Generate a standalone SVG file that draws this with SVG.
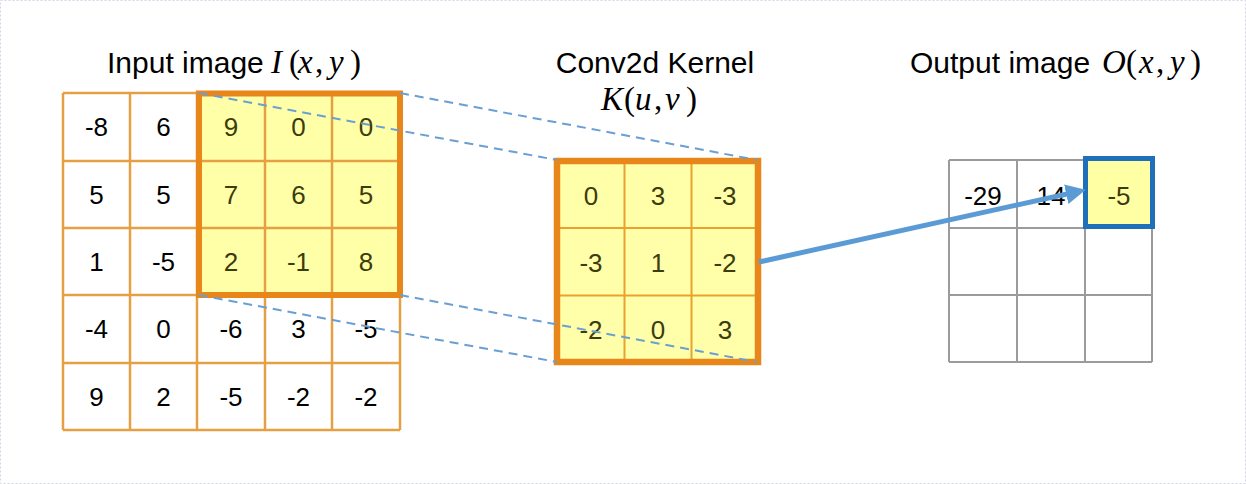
<svg xmlns="http://www.w3.org/2000/svg" width="1246" height="484" viewBox="0 0 1246 484">
<defs>
<style>
.t{font-family:"Liberation Sans",Arial,sans-serif;font-size:30px;fill:#000}
.m{font-family:"Liberation Serif","Times New Roman",serif;font-size:33px;fill:#000}
.mi{font-style:italic}
.n{font-family:"Liberation Sans",Arial,sans-serif;font-size:26px;text-anchor:middle;fill:#000}
.d{fill:#3c3c0c}
.gl{stroke:#e5a044;stroke-width:2.5;fill:none}
.kl{stroke:#e9a22e;stroke-width:2;fill:none}
.hb{stroke:#e8861a;fill:none}
.og{stroke:#9b9b9b;stroke-width:2;fill:none}
.dash{stroke:#6a9fd2;stroke-width:2;stroke-dasharray:9 6;fill:none}
</style>
<marker id="ah" viewBox="0 0 10 10" refX="5" refY="5" markerWidth="4" markerHeight="4" orient="auto" markerUnits="strokeWidth">
<path d="M0,0 L10,5 L0,10 z" fill="#5b9bd5"/>
</marker>
</defs>
<rect x="0.5" y="0.5" width="1245" height="483" fill="#fff" stroke="#d4d4ea" stroke-width="1" stroke-dasharray="2 2"/>

<g id="input">
<text class="t" x="107" y="73">Input image</text>
<text class="m" y="73"><tspan class="mi" x="271">I</tspan><tspan x="289">(</tspan><tspan class="mi" x="298">x</tspan><tspan x="315">,</tspan><tspan class="mi" x="329">y</tspan><tspan x="350">)</tspan></text>
<rect x="199" y="93.5" width="201" height="201.5" fill="#ffffa8"/>
<path class="gl" d="M63,93 H400 M63,161 H400 M63,228 H400 M63,295 H400 M63,363 H400 M63,430 H400 M63,93 V430 M130,93 V430 M197,93 V430 M265,93 V430 M332,93 V430 M400,93 V430"/>
<rect class="hb" x="199" y="93.5" width="201" height="201.5" stroke-width="6"/>
<text class="n" x="96.5" y="136">-8</text><text class="n" x="163.5" y="136">6</text><text class="n d" x="231" y="136">9</text><text class="n d" x="298.5" y="136">0</text><text class="n d" x="366" y="136">0</text>
<text class="n" x="96.5" y="204">5</text><text class="n" x="163.5" y="204">5</text><text class="n d" x="231" y="204">7</text><text class="n d" x="298.5" y="204">6</text><text class="n d" x="366" y="204">5</text>
<text class="n" x="96.5" y="271">1</text><text class="n" x="163.5" y="271">-5</text><text class="n d" x="231" y="271">2</text><text class="n d" x="298.5" y="271">-1</text><text class="n d" x="366" y="271">8</text>
<text class="n" x="96.5" y="338">-4</text><text class="n" x="163.5" y="338">0</text><text class="n" x="231" y="338">-6</text><text class="n" x="298.5" y="338">3</text><text class="n" x="366" y="338">-5</text>
<text class="n" x="96.5" y="406">9</text><text class="n" x="163.5" y="406">2</text><text class="n" x="231" y="406">-5</text><text class="n" x="298.5" y="406">-2</text><text class="n" x="366" y="406">-2</text>
</g>

<g id="kernel">
<text class="t" x="655" y="73" text-anchor="middle">Conv2d Kernel</text>
<text class="m" y="110"><tspan class="mi" x="601">K</tspan><tspan x="624">(</tspan><tspan class="mi" x="635">u</tspan><tspan x="654">,</tspan><tspan class="mi" x="665">v</tspan><tspan x="686">)</tspan></text>
<rect x="557" y="161" width="201" height="201" fill="#ffffaa"/>
<path class="kl" d="M624.5,161 V362 M691.5,161 V362 M557,228 H758 M557,295.5 H758"/>
<rect class="hb" x="557" y="161" width="201" height="201" stroke-width="6.5"/>
<text class="n d" x="591" y="205">0</text><text class="n d" x="658" y="205">3</text><text class="n d" x="725" y="205">-3</text>
<text class="n d" x="591" y="272">-3</text><text class="n d" x="658" y="272">1</text><text class="n d" x="725" y="272">-2</text>
<text class="n d" x="591" y="339">-2</text><text class="n d" x="658" y="339">0</text><text class="n d" x="725" y="339">3</text>
</g>

<g id="output">
<text class="t" x="910" y="73">Output image</text>
<text class="m" y="73"><tspan class="mi" x="1102">O</tspan><tspan x="1126">(</tspan><tspan class="mi" x="1139">x</tspan><tspan x="1156">,</tspan><tspan class="mi" x="1170">y</tspan><tspan x="1190">)</tspan></text>
<path class="og" d="M949,160 H1152 M949,228 H1152 M949,295 H1152 M949,362 H1152 M949,160 V362 M1017,160 V362 M1085,160 V362 M1152,160 V362"/>
<rect x="1085.5" y="158.5" width="67" height="68" fill="#ffffa4" stroke="#1f6fb9" stroke-width="5"/>
<text class="n" x="983" y="205">-29</text>
<text class="n" x="1051" y="205">14</text>
<text class="n d" x="1119" y="205">-5</text>
</g>

<g id="connectors">
<path class="dash" d="M400,93 L757,160 M199,93 L557,160 M199,295 L557,362 M400,295 L757,362"/>
<path d="M759,262 L1076,192" stroke="#5b9bd5" stroke-width="5" fill="none" marker-end="url(#ah)"/>
</g>
</svg>
